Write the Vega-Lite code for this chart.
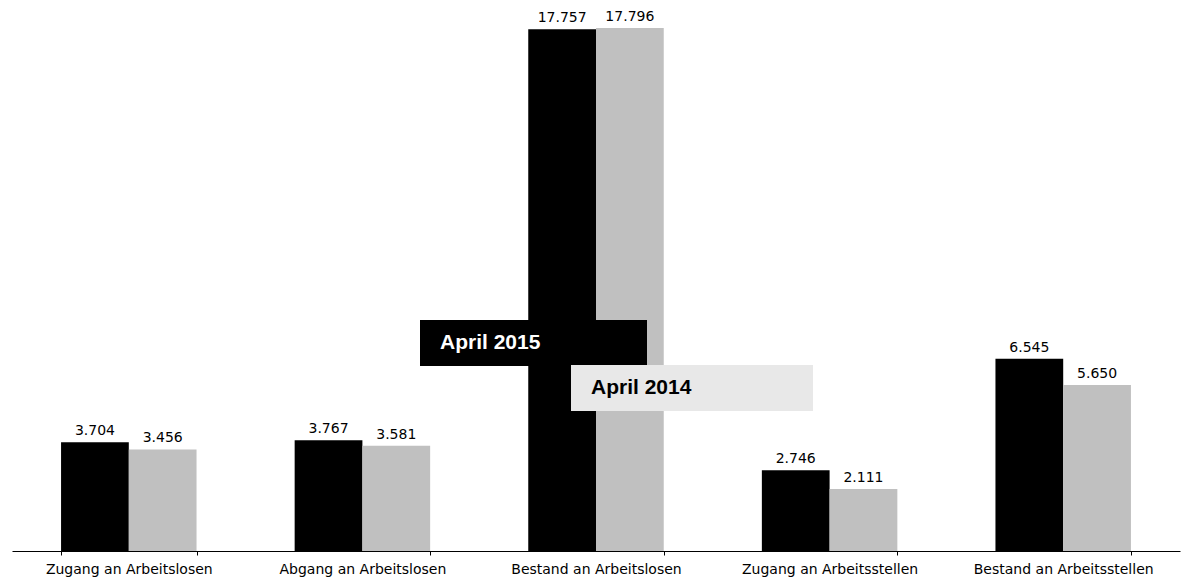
{
  "$schema": "https://vega.github.io/schema/vega-lite/v6.json",
  "width": 1168,
  "height": 551,
  "autosize": {"type": "none"},
  "padding": {"left": 12, "top": 0, "right": 9, "bottom": 30},
  "background": "white",
  "config": {
    "view": {"stroke": null},
    "locale": {"number": {"decimal": ",", "thousands": ".", "grouping": [3], "currency": ["", " €"]}}
  },
  "data": {
    "values": [
      {"kategorie": "Zugang an Arbeitslosen", "zeitraum": "April 2015", "wert": 3704},
      {"kategorie": "Zugang an Arbeitslosen", "zeitraum": "April 2014", "wert": 3456},
      {"kategorie": "Abgang an Arbeitslosen", "zeitraum": "April 2015", "wert": 3767},
      {"kategorie": "Abgang an Arbeitslosen", "zeitraum": "April 2014", "wert": 3581},
      {"kategorie": "Bestand an Arbeitslosen", "zeitraum": "April 2015", "wert": 17757},
      {"kategorie": "Bestand an Arbeitslosen", "zeitraum": "April 2014", "wert": 17796},
      {"kategorie": "Zugang an Arbeitsstellen", "zeitraum": "April 2015", "wert": 2746},
      {"kategorie": "Zugang an Arbeitsstellen", "zeitraum": "April 2014", "wert": 2111},
      {"kategorie": "Bestand an Arbeitsstellen", "zeitraum": "April 2015", "wert": 6545},
      {"kategorie": "Bestand an Arbeitsstellen", "zeitraum": "April 2014", "wert": 5650}
    ]
  },
  "encoding": {
    "x": {
      "field": "kategorie",
      "type": "nominal",
      "sort": ["Zugang an Arbeitslosen", "Abgang an Arbeitslosen", "Bestand an Arbeitslosen", "Zugang an Arbeitsstellen", "Bestand an Arbeitsstellen"],
      "scale": {"paddingInner": 0.42, "paddingOuter": 0.21},
      "axis": {
        "title": null,
        "domainColor": "#000000",
        "domainWidth": 1,
        "tickColor": "#000000",
        "tickSize": 4,
        "tickBand": "extent",
        "labelFont": "DejaVu Sans",
        "labelFontSize": 14,
        "labelColor": "#000000",
        "labelPadding": 7,
        "labelAngle": 0,
        "labelLimit": 0,
        "grid": false
      }
    },
    "xOffset": {
      "field": "zeitraum",
      "type": "nominal",
      "sort": ["April 2015", "April 2014"],
      "scale": {"paddingInner": 0, "paddingOuter": 0}
    },
    "y": {
      "field": "wert",
      "type": "quantitative",
      "scale": {"domain": [0, 18750], "nice": false},
      "axis": null
    }
  },
  "layer": [
    {
      "mark": {"type": "bar"},
      "encoding": {
        "color": {
          "field": "zeitraum",
          "type": "nominal",
          "sort": ["April 2015", "April 2014"],
          "scale": {"domain": ["April 2015", "April 2014"], "range": ["#000000", "#c0c0c0"]},
          "legend": {
            "orient": "none",
            "legendX": 408,
            "legendY": 319,
            "title": null,
            "direction": "vertical",
            "padding": 0,
            "symbolSize": 4,
            "symbolStrokeWidth": 46,
            "rowPadding": -500,
            "labelFont": "Liberation Sans",
            "labelFontSize": 21,
            "labelFontWeight": "bold",
            "labelOffset": -28,
            "labelLimit": 0,
            "encode": {
              "symbols": {
                "update": {
                  "shape": {"signal": "datum.value === 'April 2015' ? 'M-24,0H203' : 'M127,-71H369'"},
                  "stroke": {"signal": "datum.value === 'April 2015' ? '#000000' : '#e8e8e8'"},
                  "strokeWidth": {"value": 46},
                  "strokeCap": {"value": "butt"},
                  "opacity": {"value": 1}
                }
              },
              "labels": {
                "update": {
                  "fill": {"signal": "datum.value === 'April 2015' ? '#ffffff' : '#000000'"},
                  "dx": {"signal": "datum.value === 'April 2015' ? 0 : 151"},
                  "dy": {"signal": "datum.value === 'April 2015' ? 0 : -71"}
                }
              }
            }
          }
        }
      }
    },
    {
      "mark": {"type": "text", "dy": -7, "baseline": "alphabetic", "font": "DejaVu Sans", "fontSize": 14, "color": "#000000"},
      "encoding": {
        "text": {"field": "wert", "type": "quantitative", "format": ",d"}
      }
    }
  ]
}
